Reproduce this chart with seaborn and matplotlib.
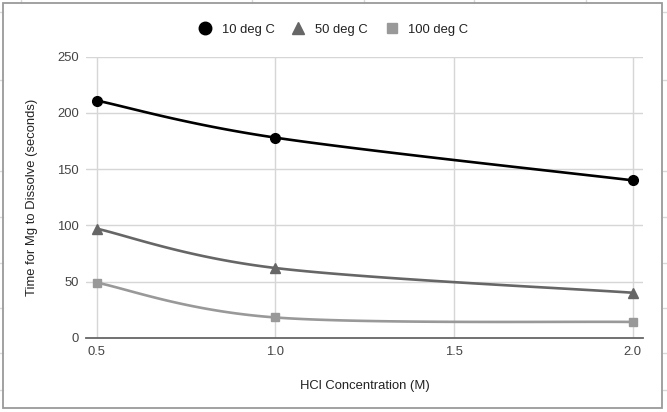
import numpy as np
import pandas as pd
import matplotlib
matplotlib.use("Agg")
import matplotlib.pyplot as plt
from matplotlib.lines import Line2D
from matplotlib.patches import Rectangle
import seaborn as sns

# ─── DATA ────────────────────────────────────────────────────────────────────
concentration = [0.5, 1.0, 2.0]
temps = ["10 deg C", "50 deg C", "100 deg C"]
time_10 = [211, 178, 140]
time_50 = [97, 62, 40]
time_100 = [49, 18, 14]
x_ticks = [0.5, 1.0, 1.5, 2.0]
y_ticks = [0, 50, 100, 150, 200, 250]

series = dict(zip(temps, [time_10, time_50, time_100]))
colors = {"10 deg C": "#000000", "50 deg C": "#666666", "100 deg C": "#999999"}
markers = {"10 deg C": "o", "50 deg C": "^", "100 deg C": "s"}
msizes = {"10 deg C": 7.0, "50 deg C": 7.0, "100 deg C": 6.0}

sns.set_theme(style="whitegrid")
plt.rcParams["font.family"] = ["Liberation Sans", "DejaVu Sans"]


def smooth(xs, ys, n=60):
    """Bezier curve through the points, like the sheet's smoothed line."""
    p = np.column_stack([xs, ys]).astype(float)
    out = []
    for i in range(len(p) - 1):
        prev = p[max(i - 1, 0)]
        nxt = p[min(i + 2, len(p) - 1)]
        c1 = p[i] + (p[i + 1] - prev) / 6
        c2 = p[i + 1] - (nxt - p[i]) / 6
        t = np.linspace(0, 1, n)[:, None]
        seg = ((1 - t) ** 3 * p[i] + 3 * (1 - t) ** 2 * t * c1
               + 3 * (1 - t) * t ** 2 * c2 + t ** 3 * p[i + 1])
        out.append(seg if i == 0 else seg[1:])
    seg = np.vstack(out)
    return seg[:, 0], seg[:, 1]


curves = []
for name, vals in series.items():
    cx, cy = smooth(concentration, vals)
    curves.append(pd.DataFrame({"x": cx, "y": cy, "temp": name}))
curve_df = pd.concat(curves, ignore_index=True)
point_df = pd.DataFrame([
    {"x": c, "y": v, "temp": name}
    for name, vals in series.items() for c, v in zip(concentration, vals)
])

W, H = 667, 412
fig = plt.figure(figsize=(W / 100, H / 100), dpi=100, facecolor="white")
ax = fig.add_axes([86 / W, (H - 337.7) / H, (643 - 86) / W, (337.7 - 56.7) / H])

sns.lineplot(data=curve_df, x="x", y="y", hue="temp", palette=colors,
             linewidth=1.9, legend=False, ax=ax, sort=False, estimator=None)
for name in temps:
    sub = point_df[point_df["temp"] == name]
    ax.plot(sub["x"], sub["y"], linestyle="none", marker=markers[name],
            markersize=msizes[name], color=colors[name], zorder=4)

ax.set_xlim(0.470, 2.029)
ax.set_ylim(0, 250)
ax.set_xticks(x_ticks)
ax.set_yticks(y_ticks)
ax.set_xticklabels([f"{v:.1f}" for v in x_ticks])
ax.tick_params(axis="both", length=0, labelsize=9.4, colors="#444444", pad=5)
ax.tick_params(axis="x", pad=6)
ax.grid(True, color="#d6d6d6", linewidth=1.0)
ax.set_facecolor("white")
for side in ["left", "right", "top"]:
    ax.spines[side].set_visible(False)
ax.spines["bottom"].set_color("#666666")
ax.spines["bottom"].set_linewidth(1.3)

ax.set_xlabel("HCl Concentration (M)", fontsize=9.4, color="#222222", labelpad=15.5)
ax.set_ylabel("Time for Mg to Dissolve (seconds)", fontsize=9.4, color="#222222",
              labelpad=14)

handles = [Line2D([], [], linestyle="none", marker=markers[n], color=colors[n],
                  markersize={"o": 9, "^": 8, "s": 7}[markers[n]]) for n in temps]
fig.legend(handles, temps, loc="center", bbox_to_anchor=(0.5, 1 - 29.5 / H),
           ncol=3, frameon=False, fontsize=9.4, handlelength=1.0,
           handletextpad=0.8, columnspacing=1.3, labelcolor="#222222")

# chart frame and the sheet cells behind it
fig.patches.append(Rectangle((3 / W, (H - 408) / H), (662 - 3) / W, (408 - 3) / H,
                             transform=fig.transFigure, fill=False,
                             edgecolor="#9a9a9a", linewidth=1.3, zorder=5))
for cx in [21, 252, 364, 474, 586]:
    fig.add_artist(Line2D([cx / W, cx / W], [1, 1 - 3 / H], color="#d9d9d9", lw=1))
for cy in [12, 80, 171, 217, 263, 308, 353, 390]:
    fig.add_artist(Line2D([0, 3 / W], [1 - cy / H] * 2, color="#d9d9d9", lw=1))
    fig.add_artist(Line2D([663 / W, 1], [1 - cy / H] * 2, color="#d9d9d9", lw=1))

fig.savefig("out.png", dpi=100, facecolor="white")
